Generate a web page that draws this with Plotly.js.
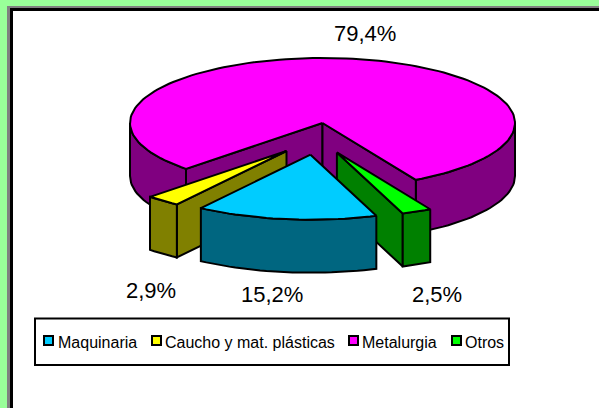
<!DOCTYPE html>
<html>
<head>
<meta charset="utf-8">
<script src="https://cdn.plot.ly/plotly-3.0.1.min.js"></script>
<style>html,body{margin:0;padding:0;background:#99FF99;overflow:hidden}#chart{width:599px;height:408px}</style>
</head>
<body>
<div id="chart"></div>
<script>
// Data
const categories = ["Maquinaria", "Caucho y mat. plásticas", "Metalurgia", "Otros"];
const shares = [15.2, 2.9, 79.4, 2.5];

// Styles
const topColors = ["#00CCFF", "#FFFF00", "#FF00FF", "#00FF00"];
const sideColors = ["#006680", "#808000", "#800080", "#008000"];

// 3D pie projection settings (pixel-like axes)
const centre = {x: 322.5, y: 123};
const rx = 192.5, ry = 65, depth = 53;
const firstAngle = 160;
const explodeOffsets = [[-12, 31.7], [-36, 28], [0, 0], [14.4, 29.4]];
const labelPositions = [[272, 294], [151, 290], [365, 33], [437, 294]];
const legendSwatchX = [43, 151, 348, 451];
const legendTextX = [58, 165, 362, 465];
const INK = "#000000";

const total = shares.reduce((a, b) => a + b, 0);
let running = firstAngle;
const slices = shares.map((v, i) => {
  const start = running, end = running + v / total * 360;
  running = end;
  return {start, end, cx: centre.x + explodeOffsets[i][0], cy: centre.y + explodeOffsets[i][1], i};
});

function pt(s, deg, dz) {
  const t = deg * Math.PI / 180;
  return [s.cx + rx * Math.sin(t), s.cy - ry * Math.cos(t) + (dz || 0)];
}
function arc(s, a, b, dz) {
  const n = Math.max(2, Math.ceil(Math.abs(b - a) / 2));
  const out = [];
  for (let k = 0; k <= n; k++) out.push(pt(s, a + (b - a) * k / n, dz));
  return out;
}
const traces = [];
function poly(points, color, name) {
  const closed = points.concat([points[0]]);
  traces.push({
    type: "scatter", mode: "lines", fill: "toself", fillcolor: color,
    x: closed.map(p => p[0]), y: closed.map(p => p[1]),
    line: {color: INK, width: 2, shape: "linear"},
    name, hoverinfo: "name", showlegend: false
  });
}
function outerSide(s, a, b) {
  poly(arc(s, a, b, 0).concat(arc(s, b, a, depth)), sideColors[s.i], categories[s.i]);
}
function wall(s, deg) {
  const apex = [s.cx, s.cy], apexLow = [s.cx, s.cy + depth];
  poly([apex, pt(s, deg, 0), pt(s, deg, depth), apexLow], sideColors[s.i], categories[s.i]);
}
function topFace(s) {
  poly([[s.cx, s.cy]].concat(arc(s, s.start, s.end, 0)), topColors[s.i], categories[s.i]);
}

const [maq, cau, met, otr] = slices;
// Metalurgia: outer visible sides, inner cut walls, top
outerSide(met, met.start, 270);
outerSide(met, 450, met.end);
wall(met, met.start);
wall(met, met.end);
topFace(met);
// Caucho
wall(cau, cau.start);
outerSide(cau, cau.start, cau.end);
topFace(cau);
// Otros
wall(otr, otr.end);
outerSide(otr, otr.start, otr.end);
topFace(otr);
// Maquinaria in front
outerSide(maq, maq.start, maq.end);
topFace(maq);

const fmt = v => v.toFixed(1).replace(".", ",") + "%";
const annotations = shares.map((v, i) => ({
  x: labelPositions[i][0], y: labelPositions[i][1], xref: "x", yref: "y",
  text: fmt(v), showarrow: false, xanchor: "center", yanchor: "middle",
  font: {family: "Liberation Sans, Arial, sans-serif", size: 22, color: "#000"}
})).concat(categories.map((c, i) => ({
  x: legendTextX[i], y: 342, xref: "x", yref: "y", text: c, showarrow: false,
  xanchor: "left", yanchor: "middle", xshift: -2,
  font: {family: "Liberation Sans, Arial, sans-serif", size: 16, color: "#000"}
})));

const rect = (x0, y0, x1, y1, fill, line, w) => ({
  type: "rect", xref: "x", yref: "y", x0, y0, x1, y1, layer: "below",
  fillcolor: fill, line: {color: line || fill, width: line ? w : 0}
});
const shapes = [
  rect(7, 6, 700, 500, "#808080"),
  rect(10, 8, 700, 500, "#000000"),
  rect(13, 11, 700, 500, "#FFFFFF"),
  rect(35, 318.5, 509, 365, "#FFFFFF", "#000000", 2)
].concat(categories.map((c, i) => ({
  type: "rect", xref: "x", yref: "y", layer: "above",
  x0: legendSwatchX[i] + 1, x1: legendSwatchX[i] + 10, y0: 336, y1: 345,
  fillcolor: topColors[i], line: {color: "#000", width: 2}
})));

Plotly.newPlot("chart", traces, {
  width: 599, height: 408,
  margin: {l: 0, r: 0, t: 0, b: 0, pad: 0},
  paper_bgcolor: "#99FF99", plot_bgcolor: "rgba(0,0,0,0)",
  xaxis: {range: [0, 599], visible: false, fixedrange: true},
  yaxis: {range: [408, 0], visible: false, fixedrange: true},
  showlegend: false, shapes, annotations
}, {displayModeBar: false, staticPlot: true});
</script>
</body>
</html>
